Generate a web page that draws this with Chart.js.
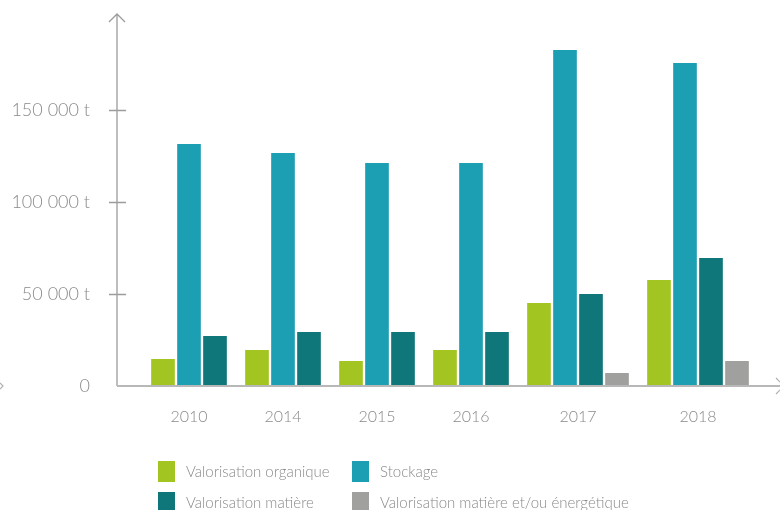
<!DOCTYPE html>
<html>
<head>
<meta charset="utf-8">
<script src="https://cdn.jsdelivr.net/npm/chart.js@4/dist/chart.umd.min.js"></script>
<style>
    html, body { margin: 0; padding: 0; background: #fff; }
    #wrap { width: 780px; height: 510px; position: relative; }
</style>
</head>
<body>
<div id="wrap"><canvas id="chart"></canvas></div>
<script>
/* ── Data (tonnes) ────────────────────────────────────────────── */

const YEARS       = ['2010', '2014', '2015', '2016', '2017', '2018'];
const ORGANIQUE   = [14700, 19600, 13600, 19600, 45100, 57600];
const STOCKAGE    = [131500, 126600, 121200, 121200, 182600, 175500];
const MATIERE     = [27200, 29300, 29300, 29300, 50000, 69600];
const ENERGETIQUE = [null, null, null, null, 7100, 13600];
const Y_TICKS     = [0, 50000, 100000, 150000];

const SERIES = [
    { label: 'Valorisation organique', values: ORGANIQUE, color: '#a3c522' },
    { label: 'Stockage', values: STOCKAGE, color: '#1c9fb3' },
    { label: 'Valorisation matière', values: MATIERE, color: '#0f7679' },
    { label: 'Valorisation matière et/ou énergétique', values: ENERGETIQUE, color: '#a0a09f' },
];

/* ── Layout ───────────────────────────────────────────────────── */

const AXIS_LEFT = 117, AXIS_BOTTOM = 386, PLOT_TOP = 18;
const BAR_PITCH = 26;      // bar width + white gap
const GROUP_GAP = 19;
const FIRST_CENTER = 72;   // distance from y axis to first group centre
const TEXT = '#8a8a8a';
const FONT = "Lato, 'Open Sans', sans-serif";

// groups are packed: width depends on how many series have a value that year
const barsPerYear = YEARS.map((_, i) => SERIES.filter(s => s.values[i] != null).length);
const centers = [];
barsPerYear.forEach((n, i) => {
    if (i === 0) { centers.push(FIRST_CENTER); return; }
    centers.push(centers[i - 1] + (barsPerYear[i - 1] + n) * BAR_PITCH / 2 + GROUP_GAP - 3);
});

const fmt = v => String(v).replace(/\B(?=(\d{3})+(?!\d))/g, ' ');

/* ── Axes + legend plugin ─────────────────────────────────────── */

const decor = {
    id: 'decor',
    afterDatasetsDraw(chart) {
        const { ctx, scales: { y } } = chart;
        ctx.save();
        ctx.lineCap = 'butt';
        // y axis with arrow
        ctx.strokeStyle = '#9c9c9c';
        ctx.lineWidth = 1.3;
        ctx.beginPath();
        ctx.moveTo(AXIS_LEFT, AXIS_BOTTOM);
        ctx.lineTo(AXIS_LEFT, 14);
        ctx.moveTo(AXIS_LEFT - 8, 22); ctx.lineTo(AXIS_LEFT, 14); ctx.lineTo(AXIS_LEFT + 8, 22);
        ctx.stroke();
        // tick crosses
        ctx.beginPath();
        Y_TICKS.filter(v => v > 0).forEach(v => {
            const py = Math.round(y.getPixelForValue(v)) + 0.5;
            ctx.moveTo(AXIS_LEFT - 8, py); ctx.lineTo(AXIS_LEFT + 9, py);
        });
        ctx.stroke();
        // x axis
        ctx.strokeStyle = '#b8b8b8';
        ctx.lineWidth = 2;
        ctx.beginPath();
        ctx.moveTo(AXIS_LEFT, AXIS_BOTTOM);
        ctx.lineTo(chart.width, AXIS_BOTTOM);
        ctx.stroke();
        ctx.lineWidth = 1.2;
        ctx.strokeStyle = '#b0b0b0';
        ctx.beginPath();
        ctx.moveTo(776, AXIS_BOTTOM - 8); ctx.lineTo(784, AXIS_BOTTOM); ctx.lineTo(776, AXIS_BOTTOM + 8);
        ctx.moveTo(0, AXIS_BOTTOM - 3); ctx.lineTo(3, AXIS_BOTTOM); ctx.lineTo(0, AXIS_BOTTOM + 3);
        ctx.stroke();
        ctx.restore();
    },
    afterDraw(chart) {
        const { ctx } = chart;
        const colX = [158, 352], rowY = [461, 492];
        ctx.save();
        ctx.font = `300 15px ${FONT}`;
        ctx.textBaseline = 'middle';
        chart.data.datasets.forEach((ds, i) => {
            const x = colX[i % 2], y = rowY[Math.floor(i / 2)];
            ctx.fillStyle = ds.backgroundColor;
            ctx.fillRect(x, y, 17, 21);
            ctx.fillStyle = TEXT;
            ctx.fillText(ds.label, x + 28, y + 11);
        });
        ctx.restore();
    }
};

/* ── Chart ────────────────────────────────────────────────────── */

new Chart(document.getElementById('chart'), {
    type: 'bar',
    data: {
        datasets: SERIES.map(s => ({
            label: s.label,
            data: s.values.map((v, i) => ({ x: centers[i], y: v })),
            backgroundColor: s.color,
            borderColor: '#ffffff',
            borderWidth: { left: 1.5, right: 1.5, top: 0, bottom: 0 },
            borderSkipped: false,
            barThickness: BAR_PITCH,
            skipNull: true,
        }))
    },
    options: {
        responsive: true,
        maintainAspectRatio: false,
        animation: false,
        events: [],
        layout: { padding: { top: PLOT_TOP, left: 0, right: 0, bottom: 0 } },
        plugins: { legend: { display: false }, tooltip: { enabled: false } },
        scales: {
            x: {
                type: 'linear',
                offset: false,
                min: 0,
                max: 780 - AXIS_LEFT,
                grid: { display: false, drawTicks: false },
                border: { display: false },
                afterBuildTicks: sc => { sc.ticks = centers.map(v => ({ value: v })); },
                afterFit: sc => { sc.height = 510 - AXIS_BOTTOM; sc.paddingLeft = 0; sc.paddingRight = 0; },
                ticks: {
                    autoSkip: false, maxRotation: 0, padding: 21,
                    color: TEXT, font: { family: FONT, size: 16, weight: 300 },
                    callback: (v, i) => YEARS[i],
                },
            },
            y: {
                min: 0,
                max: 200000,
                grid: { display: false, drawTicks: false },
                border: { display: false },
                afterBuildTicks: sc => { sc.ticks = Y_TICKS.map(v => ({ value: v })); },
                afterFit: sc => { sc.width = AXIS_LEFT; sc.paddingTop = 0; sc.paddingBottom = 0; },
                ticks: {
                    padding: 27,
                    color: TEXT, font: { family: FONT, size: 18, weight: 300 },
                    callback: v => v === 0 ? '0' : `${fmt(v)} t`,
                },
            },
        },
    },
    plugins: [decor],
});
</script>
</body>
</html>
